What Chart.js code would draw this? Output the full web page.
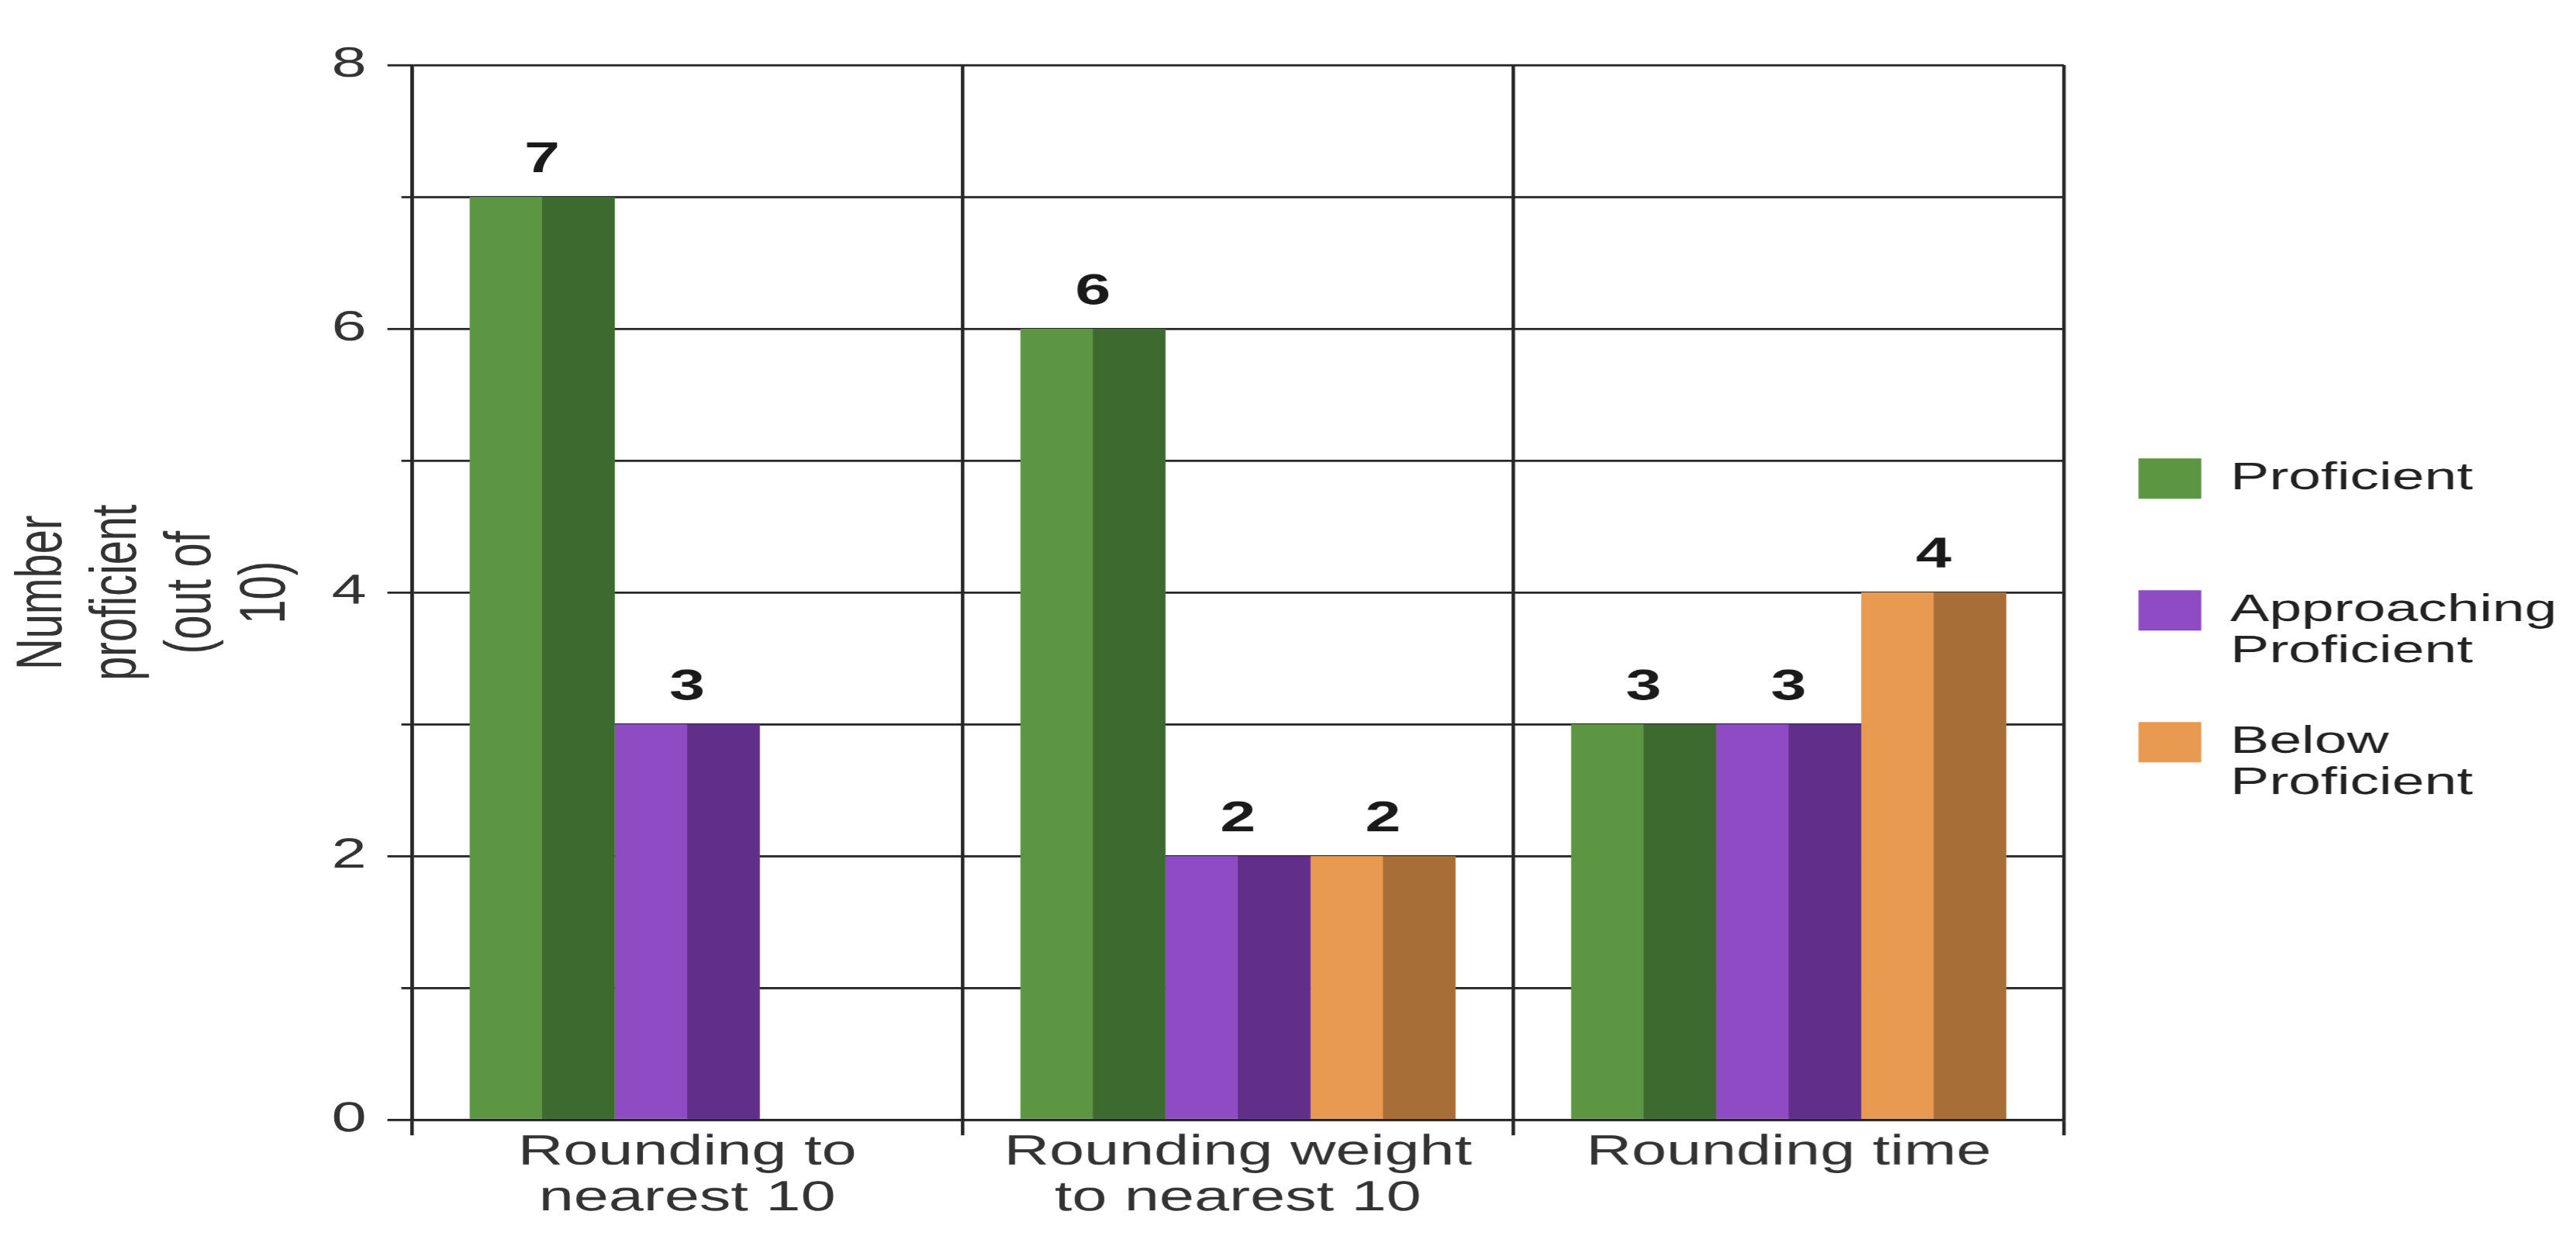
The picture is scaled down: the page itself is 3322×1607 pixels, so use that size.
<!DOCTYPE html>
<html>
<head>
<meta charset="utf-8">
<script src="https://cdn.jsdelivr.net/npm/chart.js@4.4.1/dist/chart.umd.min.js"></script>
<style>
  html, body { margin: 0; padding: 0; background: #fff; overflow: hidden; }
  /* the original picture is stretched sideways, so the canvas is too */
  #diagramm { transform: scaleX(1.5); transform-origin: 0 0; display: block; }
</style>
</head>
<body>
<canvas id="diagramm" width="2215" height="1607"></canvas>
<script>
// Kategorien (x-Achse), mehrzeilig wie im Original
const categories = [
    ['Rounding to', 'nearest 10'],
    ['Rounding weight', 'to nearest 10'],
    ['Rounding time']
];

// Werte pro Gruppe (Anzahl von 10)
const proficient = [7, 6, 3];
const approaching = [3, 2, 3];
const belowProficient = [null, 2, 4];

const seriesNames = ['Proficient', 'Approaching Proficient', 'Below Proficient'];
const legendLines = [['Proficient', ''], ['Approaching', 'Proficient'], ['Below', 'Proficient']];

const yTicks = [0, 2, 4, 6, 8];
const yTitle = ['Number', 'proficient', '(out of', '10)'];

// hell = linke Hälfte, dunkel = rechte Hälfte jedes Balkens
const lightColors = ['#5c9643', '#8e4bc4', '#e79a50'];
const darkColors = ['#3d6a2e', '#612f89', '#a86e38'];

const gridColor = '#262626';
const textColor = '#333333';
const fontFamily = '"Liberation Sans", Arial, sans-serif';

Chart.defaults.font.family = fontFamily;

// rechte Hälfte jedes Balkens dunkler einfärben
const halfShade = {
    id: 'halfShade',
    afterDatasetDraw(chart, args) {
        const ctx = chart.ctx;
        ctx.save();
        ctx.fillStyle = darkColors[args.index];
        args.meta.data.forEach((bar, j) => {
            if (chart.data.datasets[args.index].data[j] === null) return;
            const p = bar.getProps(['x', 'y', 'base', 'width'], true);
            ctx.fillRect(p.x, p.y, p.width / 2, p.base - p.y);
        });
        ctx.restore();
    }
};

// Zahlen über den Balken
const valueLabels = {
    id: 'valueLabels',
    afterDatasetsDraw(chart) {
        const ctx = chart.ctx;
        ctx.save();
        ctx.font = 'bold 55px ' + fontFamily;
        ctx.fillStyle = '#1a1a1a';
        ctx.textAlign = 'center';
        ctx.textBaseline = 'alphabetic';
        chart.data.datasets.forEach((ds, i) => {
            chart.getDatasetMeta(i).data.forEach((bar, j) => {
                const v = ds.data[j];
                if (v === null) return;
                ctx.fillText(String(v), bar.x, bar.y - 32);
            });
        });
        ctx.restore();
    }
};

const seriesValues = [proficient, approaching, belowProficient];

let MyChart = document.getElementById('diagramm').getContext('2d');
new Chart(MyChart, {
    type: 'bar',
    data: {
        labels: categories,
        datasets: seriesValues.map((vals, i) => ({
            label: seriesNames[i],
            data: vals,
            backgroundColor: lightColors[i],
            borderWidth: 0,
            barPercentage: 1,
            categoryPercentage: 0.79
        }))
    },
    options: {
        responsive: false,
        animation: false,
        devicePixelRatio: 1.5,
        layout: { padding: { top: 21, bottom: 0, left: 0, right: 7 } },
        scales: {
            x: {
                grid: { offset: true, color: gridColor, lineWidth: 3, tickLength: 20, tickColor: gridColor },
                border: { color: gridColor, width: 3 },
                ticks: {
                    font: { size: 54, lineHeight: 1.1 },
                    color: textColor,
                    padding: -7,
                    maxRotation: 0,
                    autoSkip: false
                },
                afterFit: s => { s.height = 163; }
            },
            y: {
                min: 0,
                max: 8,
                ticks: {
                    stepSize: 1,
                    font: { size: 54 },
                    color: textColor,
                    padding: 18,
                    callback: value => yTicks.includes(value) ? String(value) : ''
                },
                grid: {
                    color: gridColor,
                    lineWidth: 3,
                    tickLength: 21,
                    tickColor: gridColor,
                    // kurze Zwischenstriche bei den ungeraden Werten
                    tickBorderDash: ctx => (ctx.tick && !yTicks.includes(ctx.tick.value)) ? [0, 12, 12, 100] : []
                },
                border: { color: gridColor, width: 3 },
                title: {
                    display: true,
                    text: yTitle,
                    color: textColor,
                    font: { size: 56, lineHeight: 64 / 56 },
                    padding: { top: 5, bottom: 25 }
                },
                afterFit: s => { s.width = 354; }
            }
        },
        plugins: {
            // Titel ist im Original oben abgeschnitten, nur der Platz bleibt
            title: {
                display: true,
                text: '',
                font: { size: 10, lineHeight: 1 },
                padding: { top: 0, bottom: 53 }
            },
            legend: {
                position: 'right',
                labels: {
                    boxWidth: 54,
                    boxHeight: 52,
                    padding: 64,
                    color: '#222222',
                    font: { size: 50, lineHeight: 53 / 50 },
                    generateLabels: chart => {
                        const items = Chart.defaults.plugins.legend.labels.generateLabels(chart);
                        items.forEach((item, i) => { item.text = legendLines[i]; item.lineWidth = 0; });
                        return items;
                    }
                }
            },
            tooltip: { enabled: false }
        }
    },
    plugins: [halfShade, valueLabels]
});
</script>
</body>
</html>
